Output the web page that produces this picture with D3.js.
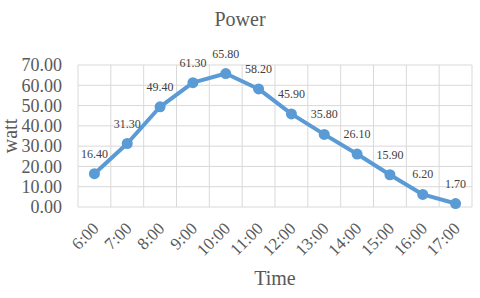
<!DOCTYPE html>
<html lang="en">
<head>
    <meta charset="UTF-8">
    <title>Power</title>
    <script src="https://d3js.org/d3.v7.min.js"></script>
    <style>
        body { margin: 0; background: #fff; }
        svg text { font-family: "Liberation Serif", "Times New Roman", serif; fill: #595959; }
    </style>
</head>
<body>
    <div id="chart"></div>
    <script>
        const times = ["6:00", "7:00", "8:00", "9:00", "10:00", "11:00", "12:00", "13:00", "14:00", "15:00", "16:00", "17:00"];
        const power = [16.40, 31.30, 49.40, 61.30, 65.80, 58.20, 45.90, 35.80, 26.10, 15.90, 6.20, 1.70];
        const yTicks = [0, 10, 20, 30, 40, 50, 60, 70];

        const width = 480;
        const height = 298;
        const margin = { top: 65, right: 8, bottom: 91, left: 78 };

        const svg = d3.select("#chart").append("svg")
            .attr("width", width)
            .attr("height", height);

        const x = d3.scaleBand()
            .domain(times)
            .range([margin.left, width - margin.right]);

        const y = d3.scaleLinear()
            .domain([0, 70])
            .range([height - margin.bottom, margin.top]);

        // gridlines
        svg.append("g")
            .selectAll("line")
            .data(yTicks)
            .enter().append("line")
            .attr("x1", margin.left)
            .attr("x2", width - margin.right)
            .attr("y1", d => y(d))
            .attr("y2", d => y(d))
            .attr("stroke", "#d9d9d9");

        const vlines = times.map(t => x(t)).concat([width - margin.right]);
        svg.append("g")
            .selectAll("line")
            .data(vlines)
            .enter().append("line")
            .attr("x1", d => d)
            .attr("x2", d => d)
            .attr("y1", margin.top)
            .attr("y2", height - margin.bottom)
            .attr("stroke", "#d9d9d9");

        // y tick labels
        svg.append("g")
            .selectAll("text")
            .data(yTicks)
            .enter().append("text")
            .attr("x", margin.left - 16)
            .attr("y", d => y(d))
            .attr("dy", "0.35em")
            .attr("text-anchor", "end")
            .style("font-size", "18px")
            .text(d => d.toFixed(2));

        // x tick labels, rotated 45 degrees
        svg.append("g")
            .selectAll("text")
            .data(times)
            .enter().append("text")
            .attr("transform", d => `translate(${x(d) + x.bandwidth() / 2 - 3},${height - margin.bottom + 14}) rotate(-45)`)
            .attr("text-anchor", "end")
            .attr("dy", "0.7em")
            .style("font-size", "17px")
            .text(d => d);

        const cx = d => x(d) + x.bandwidth() / 2;

        const line = d3.line()
            .x((d, i) => cx(times[i]))
            .y(d => y(d));

        svg.append("path")
            .datum(power)
            .attr("d", line)
            .attr("fill", "none")
            .attr("stroke", "#5B9BD5")
            .attr("stroke-width", 4)
            .attr("stroke-linejoin", "round");

        svg.append("g")
            .selectAll("circle")
            .data(power)
            .enter().append("circle")
            .attr("cx", (d, i) => cx(times[i]))
            .attr("cy", d => y(d))
            .attr("r", 5.5)
            .attr("fill", "#5B9BD5");

        // data labels
        svg.append("g")
            .selectAll("text")
            .data(power)
            .enter().append("text")
            .attr("x", (d, i) => cx(times[i]))
            .attr("y", d => y(d) - 16)
            .attr("text-anchor", "middle")
            .style("font-size", "12px")
            .style("fill", "#404040")
            .text(d => d.toFixed(2));

        // titles
        svg.append("text")
            .attr("x", width / 2)
            .attr("y", 26)
            .attr("text-anchor", "middle")
            .style("font-size", "20px")
            .text("Power");

        svg.append("text")
            .attr("transform", `translate(17,${(margin.top + height - margin.bottom) / 2}) rotate(-90)`)
            .attr("text-anchor", "middle")
            .style("font-size", "20px")
            .text("watt");

        svg.append("text")
            .attr("x", (margin.left + width - margin.right) / 2)
            .attr("y", 285)
            .attr("text-anchor", "middle")
            .style("font-size", "20px")
            .text("Time");
    </script>
</body>
</html>
